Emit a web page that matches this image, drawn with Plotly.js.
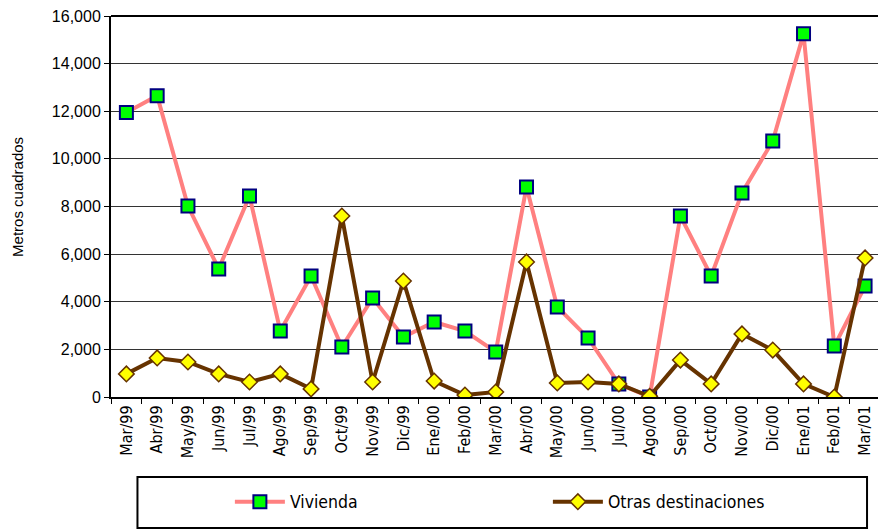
<!DOCTYPE html>
<html>
<head>
<meta charset="utf-8">
<script src="https://cdn.plot.ly/plotly-3.0.1.min.js"></script>
<style>html,body{margin:0;padding:0;background:#fff;}#chart{width:878px;height:529px;}</style>
</head>
<body>
<div id="chart"></div>
<script>
const months = ["Mar/99","Abr/99","May/99","Jun/99","Jul/99","Ago/99","Sep/99","Oct/99","Nov/99","Dic/99",
  "Ene/00","Feb/00","Mar/00","Abr/00","May/00","Jun/00","Jul/00","Ago/00","Sep/00","Oct/00","Nov/00","Dic/00",
  "Ene/01","Feb/01","Mar/01"];
const vivienda = [11950,12650,8020,5380,8440,2770,5080,2100,4160,2520,
  3150,2770,1890,8820,3780,2480,550,0,7600,5080,8570,10750,15250,2140,4660];
const otras = [970,1640,1470,970,630,970,340,7600,630,4870,
  670,80,210,5670,590,630,550,30,1550,550,2650,1970,550,0,5840];
const yTicks = [0,2000,4000,6000,8000,10000,12000,14000,16000];
const yTitle = 'Metros cuadrados';

const narrow = '"DejaVu Sans Condensed", sans-serif';
const arial = '"Liberation Sans", Arial, sans-serif';

const traces = [
  {x: months, y: vivienda, name: 'Vivienda', type: 'scatter', mode: 'lines+markers',
   line: {color: '#FF8080', width: 4},
   marker: {symbol: 'square', size: 13, color: '#00FF00', line: {color: '#000080', width: 2}}},
  {x: months, y: otras, name: 'Otras destinaciones', type: 'scatter', mode: 'lines+markers',
   line: {color: '#663300', width: 4},
   marker: {symbol: 'diamond', size: 12, color: '#FFFF00', line: {color: '#663300', width: 1.5}}}
];

const layout = {
  width: 878, height: 529,
  margin: {l: 111, r: 0, t: 16, b: 132},
  paper_bgcolor: '#fff', plot_bgcolor: '#fff',
  showlegend: true,
  xaxis: {
    type: 'category', range: [-0.5, 24.42],
    showline: true, linecolor: '#000', linewidth: 2,
    ticks: 'outside', ticklen: 5, tickwidth: 1, tickcolor: '#000', tickson: 'boundaries',
    tickangle: -90, showgrid: false,
    tickfont: {family: narrow, size: 16, color: '#000'},
    fixedrange: true
  },
  yaxis: {
    range: [0, 16000], tickvals: yTicks, tickformat: ',',
    showline: true, linecolor: '#000', linewidth: 2,
    ticks: 'outside', ticklen: 5, tickcolor: '#000',
    showgrid: true, gridcolor: '#333', gridwidth: 1, zeroline: false,
    tickfont: {family: arial, size: 16, color: '#000'},
    fixedrange: true
  },
  annotations: [
    {text: yTitle, xref: 'paper', yref: 'paper', x: -0.1213, y: 0.525, xanchor: 'center', yanchor: 'middle',
     textangle: -90, showarrow: false, font: {family: arial, size: 15, color: '#000'}}
  ],
  legend: {
    orientation: 'h', x: 0.155, xanchor: 'left', y: -0.275, yanchor: 'middle',
    font: {family: narrow, size: 17.5, color: '#000'},
    bgcolor: 'rgba(0,0,0,0)', borderwidth: 0, itemwidth: 50,
    entrywidth: 253, entrywidthmode: 'pixels', traceorder: 'normal'
  },
  shapes: [
    {type: 'line', xref: 'paper', yref: 'paper', x0: 0, x1: 1, y0: 1, y1: 1, line: {color: '#000', width: 2}},
    {type: 'rect', xref: 'paper', yref: 'paper', x0: 0.0345, x1: 0.9857, y0: -0.21, y1: -0.344, line: {color: '#000', width: 2}}
  ]
};

Plotly.newPlot('chart', traces, layout, {displayModeBar: false, staticPlot: true});
</script>
</body>
</html>
